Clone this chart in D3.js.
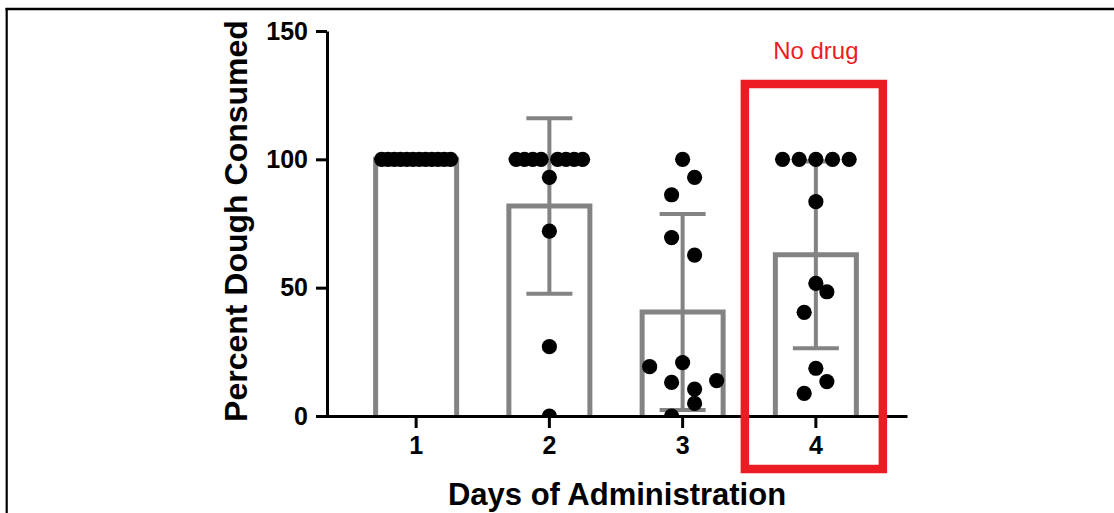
<!DOCTYPE html>
<html>
<head>
<meta charset="utf-8">
<script src="https://cdn.jsdelivr.net/npm/d3@7"></script>
<style>
  html, body { margin: 0; padding: 0; background: #fff; }
  svg { display: block; }
  text { font-family: Arial, "Liberation Sans", Helvetica, sans-serif; }
</style>
</head>
<body>
<svg id="chart" width="1114" height="513"></svg>
<script>
// ---------- data ----------
const days = ["1", "2", "3", "4"];
const means = [100, 81.8, 40.5, 62.8];
const sds = [0, 34.2, 38.2, 36.4];
const yTicks = [0, 50, 100, 150];

const day1Values = [100, 100, 100, 100, 100, 100, 100, 100, 100, 100, 100, 100];
const day2Values = [100, 100, 100, 100, 100, 100, 100, 100, 93, 72, 27, 0];
const day3Values = [100, 93, 86.2, 69.5, 62.7, 20.8, 19.2, 13.8, 13.1, 10.5, 4.9, 0];
const day4Values = [100, 100, 100, 100, 100, 83.5, 51.7, 48.4, 40.4, 18.6, 13.4, 8.8];

// horizontal scatter of each point, as a fraction of the bar width
const day1Jitter = [-0.426, -0.348, -0.270, -0.194, -0.116, -0.039, 0.039, 0.116, 0.194, 0.270, 0.348, 0.426];
const day2Jitter = [-0.41, -0.307, -0.205, -0.102, 0.102, 0.205, 0.307, 0.41, 0, 0, 0, 0];
const day3Jitter = [0, 0.148, -0.136, -0.136, 0.148, 0, -0.407, 0.42, -0.136, 0.148, 0.148, -0.136];
const day4Jitter = [-0.411, -0.206, 0, 0.206, 0.411, 0, 0, 0.136, -0.144, 0, 0.136, -0.144];

const xTitle = "Days of Administration";
const yTitle = "Percent Dough Consumed";
const annotation = "No drug";

// ---------- layout ----------
const svg = d3.select("#chart");
const plotLeft = 327, plotRight = 907, plotTop = 31, plotBottom = 416;

const x = d3.scaleBand().domain(days).range([plotLeft - 2, plotRight])
  .paddingInner(0.392).paddingOuter(0.38);
const y = d3.scaleLinear().domain([0, 150]).range([plotBottom, plotTop]);

const gray = "#838383";
const red = "#ed1c24";

// page frame
svg.append("line").attr("x1", 5.5).attr("x2", 1114).attr("y1", 9).attr("y2", 9)
  .attr("stroke", "#000").attr("stroke-width", 2.6);
svg.append("line").attr("x1", 6.7).attr("x2", 6.7).attr("y1", 8).attr("y2", 513)
  .attr("stroke", "#000").attr("stroke-width", 2.2);

// clip for the plot area (points at 0 are cut by the axis)
svg.append("clipPath").attr("id", "plotClip").append("rect")
  .attr("x", 0).attr("y", 0).attr("width", 1114).attr("height", plotBottom);

const plot = svg.append("g").attr("clip-path", "url(#plotClip)");

// bars (open at the bottom)
const barData = days.map((d, i) => ({ day: d, mean: means[i], sd: sds[i] }));
plot.selectAll("path.bar").data(barData).join("path")
  .attr("class", "bar")
  .attr("d", d => {
    const x0 = x(d.day), x1 = x(d.day) + x.bandwidth();
    return `M${x0},${y(0) + 3} V${y(d.mean)} H${x1} V${y(0) + 3}`;
  })
  .attr("fill", "none").attr("stroke", gray).attr("stroke-width", 5)
  .attr("stroke-linejoin", "miter");

// error bars
const capHalf = 23;
const eb = plot.selectAll("g.err").data(barData.filter(d => d.sd > 0)).join("g").attr("class", "err");
eb.append("line")
  .attr("x1", d => x(d.day) + x.bandwidth() / 2).attr("x2", d => x(d.day) + x.bandwidth() / 2)
  .attr("y1", d => y(d.mean + d.sd)).attr("y2", d => y(d.mean - d.sd))
  .attr("stroke", gray).attr("stroke-width", 4);
eb.append("line")
  .attr("x1", d => x(d.day) + x.bandwidth() / 2 - capHalf).attr("x2", d => x(d.day) + x.bandwidth() / 2 + capHalf)
  .attr("y1", d => y(d.mean + d.sd)).attr("y2", d => y(d.mean + d.sd))
  .attr("stroke", gray).attr("stroke-width", 4);
eb.append("line")
  .attr("x1", d => x(d.day) + x.bandwidth() / 2 - capHalf).attr("x2", d => x(d.day) + x.bandwidth() / 2 + capHalf)
  .attr("y1", d => y(d.mean - d.sd)).attr("y2", d => y(d.mean - d.sd))
  .attr("stroke", gray).attr("stroke-width", 4);

// points
const allValues = [day1Values, day2Values, day3Values, day4Values];
const allJitter = [day1Jitter, day2Jitter, day3Jitter, day4Jitter];
const points = [];
days.forEach((d, i) => {
  allValues[i].forEach((v, j) => points.push({ day: d, value: v, jit: allJitter[i][j] }));
});
plot.selectAll("circle.pt").data(points).join("circle")
  .attr("class", "pt")
  .attr("cx", d => x(d.day) + x.bandwidth() / 2 + d.jit * x.bandwidth())
  .attr("cy", d => y(d.value))
  .attr("r", 7.6)
  .attr("fill", "#000");

// axes
const yAxis = svg.append("g").attr("transform", `translate(${plotLeft},0)`)
  .call(d3.axisLeft(y).tickValues(yTicks).tickSize(11).tickSizeOuter(0).tickPadding(8));
const xAxis = svg.append("g").attr("transform", `translate(0,${plotBottom})`)
  .call(d3.axisBottom(x).tickSize(12).tickSizeOuter(0).tickPadding(8));

[yAxis, xAxis].forEach(g => {
  g.select(".domain").attr("stroke", "#000").attr("stroke-width", 3);
  g.selectAll(".tick line").attr("stroke", "#000").attr("stroke-width", 3);
  g.selectAll(".tick text").attr("fill", "#000")
    .style("font-size", "25px").style("font-weight", "bold")
    .style("font-family", 'Arial, "Liberation Sans", sans-serif');
});

// axis titles
svg.append("text")
  .attr("transform", `translate(247,221) rotate(-90)`)
  .attr("text-anchor", "middle")
  .style("font-size", "32px").style("font-weight", "bold")
  .attr("fill", "#000").text(yTitle);

svg.append("text")
  .attr("x", (plotLeft + plotRight) / 2).attr("y", 505)
  .attr("text-anchor", "middle")
  .style("font-size", "31px").style("font-weight", "bold")
  .attr("fill", "#000").text(xTitle);

// annotation box around day 4
const cx4 = x("4") + x.bandwidth() / 2;
svg.append("rect")
  .attr("x", cx4 - 71).attr("y", 84)
  .attr("width", 138).attr("height", 385)
  .attr("fill", "none").attr("stroke", red).attr("stroke-width", 8.5);
svg.append("text")
  .attr("x", cx4).attr("y", 59)
  .attr("text-anchor", "middle")
  .style("font-size", "24px")
  .attr("fill", red).text(annotation);
</script>
</body>
</html>
